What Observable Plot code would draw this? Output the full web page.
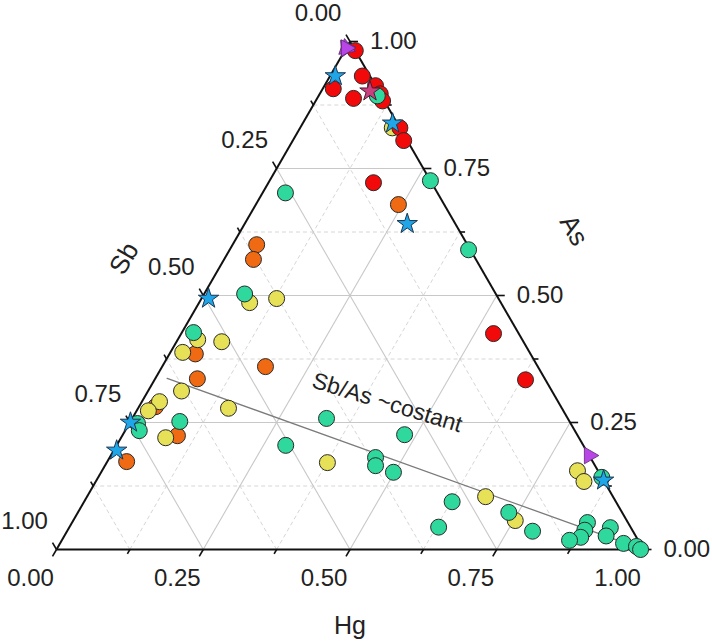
<!DOCTYPE html>
<html><head><meta charset="utf-8">
<script src="https://cdn.jsdelivr.net/npm/d3@7"></script>
<script src="https://cdn.jsdelivr.net/npm/@observablehq/plot@0.6"></script>
<style>body{margin:0;background:#fff} svg{display:block}</style>
</head><body><div id="chart"></div>
<script>
// Each sample: [Hg, Sb, As] (fractions)
const redPts = [
  [0.018,0.000,0.982],[0.018,0.075,0.907],[0.055,0.013,0.932],[0.062,0.050,0.888],
  [0.087,0.000,0.913],[0.103,0.000,0.897],[0.114,0.003,0.883],[0.170,0.000,0.830],
  [0.189,0.006,0.805],[0.179,0.099,0.722],[0.532,0.043,0.425],[0.632,0.034,0.334]
];
const orangePts = [
  [0.243,0.078,0.679],[0.041,0.359,0.600],[0.050,0.379,0.571],[0.044,0.571,0.385],
  [0.176,0.464,0.360],[0.072,0.592,0.336],[0.028,0.691,0.281],[0.094,0.682,0.224],
  [0.033,0.794,0.173]
];
const yellowPts = [
  [0.157,0.013,0.830],[0.086,0.428,0.486],[0.128,0.378,0.494],[0.034,0.553,0.413],
  [0.021,0.591,0.388],[0.077,0.514,0.409],[0.057,0.631,0.312],[0.154,0.568,0.278],
  [0.030,0.679,0.291],[0.020,0.707,0.273],[0.076,0.704,0.220],[0.376,0.453,0.171],
  [0.679,0.217,0.104],[0.753,0.190,0.057],[0.810,0.035,0.155],[0.820,0.034,0.132]
];
const greenPts = [
  [0.100,0.007,0.893],[0.274,0.000,0.726],[0.407,0.003,0.590],[0.039,0.259,0.702],
  [0.069,0.428,0.503],[0.020,0.553,0.427],[0.014,0.738,0.248],[0.024,0.742,0.234],
  [0.084,0.664,0.252],[0.331,0.411,0.258],[0.288,0.507,0.205],[0.480,0.294,0.226],
  [0.453,0.366,0.181],[0.461,0.374,0.165],[0.498,0.350,0.152],[0.627,0.279,0.094],
  [0.629,0.327,0.044],[0.734,0.193,0.073],[0.793,0.171,0.036],[0.858,0.000,0.142],
  [0.878,0.069,0.053],[0.881,0.081,0.038],[0.881,0.095,0.024],[0.865,0.117,0.018],
  [0.922,0.035,0.043],[0.935,0.051,0.027],[0.960,0.028,0.012],[0.985,0.009,0.006],
  [0.995,0.005,0.000]
];
const blueStars = [
  [0.009,0.059,0.932],[0.153,0.008,0.838],[0.277,0.082,0.641],[0.012,0.494,0.494],
  [0.001,0.749,0.250],[0.005,0.800,0.195],[0.864,0.000,0.136]
];
const pinkStars = [[0.083,0.015,0.902]];
const purpleTriangles = [[0.000,0.013,0.987],[0.815,0.000,0.185]];
const trendLine = [[0.020,0.643,0.337],[0.953,0.031,0.016]];
const trendLabel = "Sb/As ~costant";
const trendLabelAt = [[0.419,0.292,0.289]];
const tickValues = [0,0.125,0.25,0.375,0.5,0.625,0.75,0.875,1];
const labelValues = [0,0.25,0.5,0.75,1];
const labelTexts = ["0.00","0.25","0.50","0.75","1.00"];
const axisTitles = {hg:"Hg", sb:"Sb", as:"As"};

const S3 = Math.sqrt(3)/2;
const L = 587; // px per unit side
function xy(t){const s=t[0]+t[1]+t[2];return {x:(t[0]+t[2]/2)/s, y:(t[2]*S3)/s};}
const P = a => a.map(xy);
function seg(a,b){const p=xy(a),q=xy(b);return {x1:p.x,y1:p.y,x2:q.x,y2:q.y};}

const inner = tickValues.filter(v=>v>0&&v<1);
const solidV = inner.filter(v=>Math.abs(v*4-Math.round(v*4))<1e-9);
const dashV = inner.filter(v=>!solidV.includes(v));
function gridFor(vals){
  const g=[];
  for(const v of vals){
    g.push(seg([0,1-v,v],[1-v,0,v]));
    g.push(seg([v,1-v,0],[v,0,1-v]));
    g.push(seg([1-v,v,0],[0,v,1-v]));
  }
  return g;
}
const edges=[seg([0,1,0],[1,0,0]),seg([1,0,0],[0,0,1]),seg([0,0,1],[0,1,0])];
function tickSegs(){
  const t=[];
  for(const v of tickValues){
    const major = labelValues.some(m=>Math.abs(m-v)<1e-9);
    const len=(major?8:5)/L;
    let p=xy([v,1-v,0]); t.push({x1:p.x,y1:p.y,x2:p.x-0.5*len,y2:p.y-S3*len});
    p=xy([0,v,1-v]); t.push({x1:p.x,y1:p.y,x2:p.x-0.5*len,y2:p.y+S3*len});
    p=xy([1-v,0,v]); t.push({x1:p.x,y1:p.y,x2:p.x+len,y2:p.y});
  }
  return t;
}
const hgLab = labelValues.map((v,i)=>({...xy([v,1-v,0]),t:labelTexts[i]}));
const sbLab = labelValues.map((v,i)=>({...xy([0,v,1-v]),t:labelTexts[i]}));
const asLab = labelValues.map((v,i)=>({...xy([1-v,0,v]),t:labelTexts[i]}));

const font = "Liberation Sans, Arial, Helvetica, sans-serif";
const dotStroke = "#2a2a2a";
const R = 8;

const chart = Plot.plot({
  width:712, height:642,
  marginLeft:56, marginRight:69, marginTop:41, marginBottom:93,
  x:{domain:[0,1], axis:null},
  y:{domain:[0,S3], axis:null},
  style:{fontFamily:font, background:"#fff"},
  marks:[
    Plot.link(gridFor(dashV),{x1:"x1",y1:"y1",x2:"x2",y2:"y2",stroke:"#d6d6d6",strokeWidth:1,strokeDasharray:"4,3"}),
    Plot.link(gridFor(solidV),{x1:"x1",y1:"y1",x2:"x2",y2:"y2",stroke:"#c8c8c8",strokeWidth:1.1}),
    Plot.link(edges,{x1:"x1",y1:"y1",x2:"x2",y2:"y2",stroke:"#111",strokeWidth:2}),
    Plot.link(tickSegs(),{x1:"x1",y1:"y1",x2:"x2",y2:"y2",stroke:"#111",strokeWidth:1.6}),
    Plot.line(P(trendLine),{x:"x",y:"y",stroke:"#7a7a7a",strokeWidth:1.3}),
    Plot.dot(P(orangePts),{x:"x",y:"y",r:R,fill:"#ef6a12",stroke:dotStroke,strokeWidth:1}),
    Plot.dot(P(yellowPts),{x:"x",y:"y",r:R,fill:"#e7e158",stroke:dotStroke,strokeWidth:1}),
    Plot.dot(P(redPts),{x:"x",y:"y",r:R,fill:"#f20a0a",stroke:dotStroke,strokeWidth:1}),
    Plot.dot(P(greenPts),{x:"x",y:"y",r:R,fill:"#2fd89d",stroke:dotStroke,strokeWidth:1}),
    Plot.dot(P(purpleTriangles).slice(0,1),{x:"x",y:"y",r:6.2,symbol:"triangle",rotate:205,fill:"#b845e6",stroke:"#5a2a70",strokeWidth:0.8}),
    Plot.dot(P(purpleTriangles).slice(0,1),{x:"x",y:"y",r:6.2,symbol:"triangle",rotate:230,fill:"#b845e6",stroke:"#5a2a70",strokeWidth:0.8}),
    Plot.dot(P(purpleTriangles),{x:"x",y:"y",r:6.2,symbol:"triangle",rotate:90,fill:"#b845e6",stroke:"#5a2a70",strokeWidth:0.8}),
    Plot.dot(P(blueStars),{x:"x",y:"y",r:6.4,symbol:"star",fill:"#1fa6e8",stroke:"#1b3550",strokeWidth:1}),
    Plot.dot(P(pinkStars),{x:"x",y:"y",r:6.4,symbol:"star",fill:"#c8407e",stroke:"#4a1a30",strokeWidth:1}),
    Plot.text(hgLab,{x:"x",y:"y",text:"t",dx:-26,dy:29,fontSize:24,fill:"#222",textAnchor:"middle"}),
    Plot.text(sbLab,{x:"x",y:"y",text:"t",dx:-32,dy:-28,fontSize:24,fill:"#222",textAnchor:"middle"}),
    Plot.text(asLab,{x:"x",y:"y",text:"t",dx:20,dy:0,fontSize:24,fill:"#222",textAnchor:"start"}),
    Plot.text([xy([0.5,0.5,0])],{x:"x",y:"y",text:[axisTitles.hg],dy:76,fontSize:25,fill:"#222"}),
    Plot.text([xy([0,0.5,0.5])],{x:"x",y:"y",text:[axisTitles.sb],dx:-79,dy:-37,rotate:-60,fontSize:26,fill:"#222"}),
    Plot.text([xy([0.5,0,0.5])],{x:"x",y:"y",text:[axisTitles.as],dx:77,dy:-65,rotate:60,fontSize:26,fill:"#222"}),
    Plot.text(P(trendLabelAt),{x:"x",y:"y",text:[trendLabel],rotate:17,fontSize:23,fill:"#222"})
  ]
});
document.getElementById("chart").appendChild(chart);
</script>
</body></html>
